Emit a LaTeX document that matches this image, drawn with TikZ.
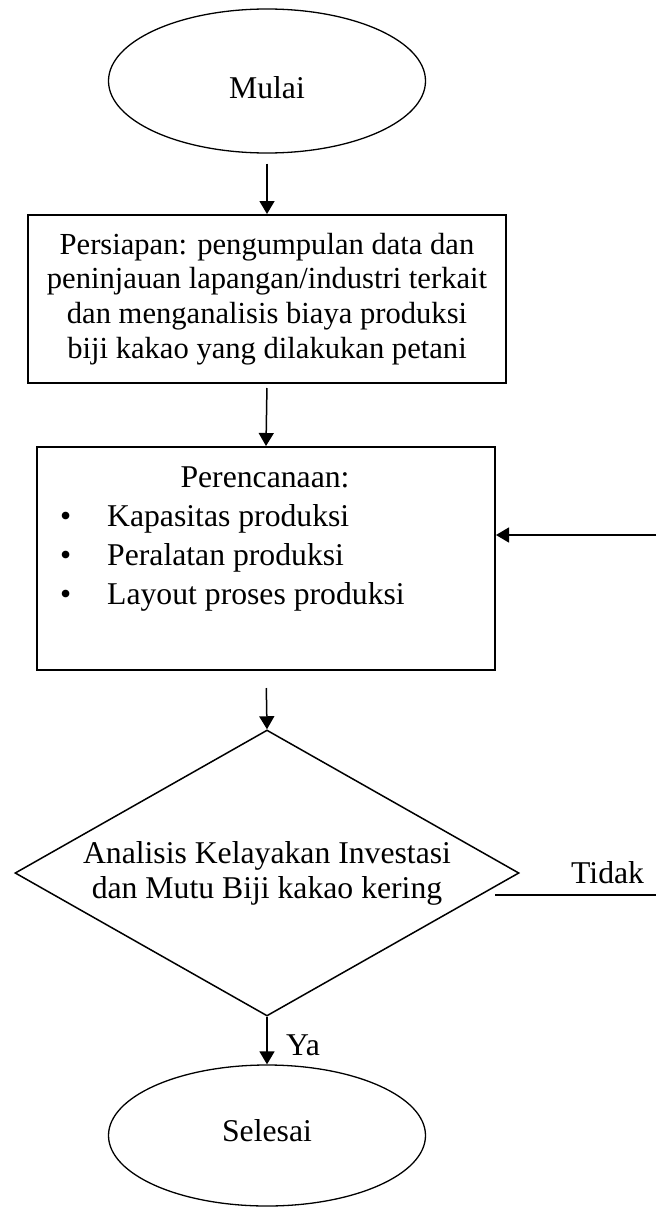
\documentclass[tikz,border=0pt]{standalone}
\usepackage{fontspec}
\setmainfont{Liberation Serif}
\usetikzlibrary{shapes.geometric,arrows.meta,calc}
\begin{document}
\begin{tikzpicture}[x=1pt,y=-1pt,
  every node/.style={font=\fontsize{31.7}{35}\selectfont},
  flowline/.style={line width=1.5pt},
  arr/.style={flowline,-{Triangle[width=15pt,length=13pt]}},
  termbox/.style={draw,ellipse,line width=1.3pt,minimum width=317pt,minimum height=144pt,inner sep=0pt},
  procbox/.style={draw,rectangle,line width=2pt,inner sep=0pt},
  decbox/.style={draw,diamond,aspect=1.762,line width=1.5pt,minimum width=504pt,minimum height=286pt,inner sep=0pt,align=center},
  textnode/.style={inner sep=0pt}]
\useasboundingbox (0,0) rectangle (656,1207);

\node[termbox] (mulai) at (267,81) {\raisebox{-7pt}[\height][\depth]{Mulai}};

\node[procbox, minimum width=478pt, minimum height=168pt, align=center,
      font=\fontsize{30.6}{34.7}\selectfont] (prep) at (267,299)
  {Persiapan: pengumpulan data dan\\peninjauan lapangan/industri terkait\\dan menganalisis biaya produksi\\biji kakao yang dilakukan petani};

\node[procbox, minimum width=458pt, minimum height=223pt] (plan) at (266,558.5) {};
\node[textnode, anchor=base] (plantitle) at (265,487) {Perencanaan:};
\node[textnode, anchor=base west] (item1) at (60,526) {\makebox[47pt][l]{\textbullet}Kapasitas produksi};
\node[textnode, anchor=base west] (item2) at (60,565) {\makebox[47pt][l]{\textbullet}Peralatan produksi};
\node[textnode, anchor=base west] (item3) at (60,604) {\makebox[47pt][l]{\textbullet}Layout proses produksi};

\node[decbox, font=\fontsize{31.7}{35}\selectfont] (check) at (267,873)
  {Analisis Kelayakan Investasi\\dan Mutu Biji kakao kering};

\node[termbox, minimum height=141pt] (selesai) at (267,1135.5) {\raisebox{5pt}[\height][\depth]{Selesai}};

\draw[arr, shorten <=10pt] (mulai.south) -- (prep.north);
\draw[arr, shorten <=4pt] (prep.south) -- (plan.north);
\draw[arr, shorten <=17pt] (plan.south) -- (check.north);
\draw[arr] (check.south) -- (selesai.north);

\coordinate (fbright) at (656,535);
\draw[arr] (fbright) -- (fbright -| plan.east);

\coordinate (notstart) at (495,895);
\coordinate (notend) at (656,895);
\draw[flowline] (notstart) -- (notend);
\node[textnode, anchor=base west] (tidak) at (571,883) {Tidak};
\node[textnode, anchor=base west] (ya) at (286,1055) {Ya};
\end{tikzpicture}
\end{document}
